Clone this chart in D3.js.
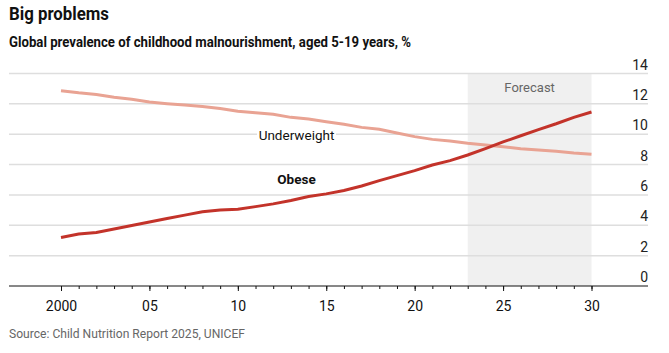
<!DOCTYPE html>
<html>
<head>
<meta charset="utf-8">
<script src="https://cdnjs.cloudflare.com/ajax/libs/d3/7.8.5/d3.min.js"></script>
<style>
  body { margin: 0; background: #fff; }
  svg { font-family: Roboto, "Liberation Sans", sans-serif; }
</style>
</head>
<body>
<div id="chart-area"></div>
<script>
// Data
var years = [2000, 2001, 2002, 2003, 2004, 2005, 2006, 2007, 2008, 2009,
             2010, 2011, 2012, 2013, 2014, 2015, 2016, 2017, 2018, 2019,
             2020, 2021, 2022, 2023, 2024, 2025, 2026, 2027, 2028, 2029, 2030];
var underweight = [12.87, 12.73, 12.62, 12.43, 12.31, 12.12, 12.01, 11.92, 11.83, 11.70,
                   11.52, 11.41, 11.31, 11.11, 11.00, 10.82, 10.65, 10.45, 10.32, 10.08,
                   9.84, 9.66, 9.55, 9.40, 9.29, 9.18, 9.05, 8.96, 8.87, 8.76, 8.68];
var obese = [3.20, 3.42, 3.53, 3.75, 3.99, 4.21, 4.45, 4.67, 4.89, 5.00,
             5.06, 5.23, 5.41, 5.63, 5.89, 6.07, 6.29, 6.59, 6.94, 7.27,
             7.60, 7.97, 8.26, 8.63, 9.05, 9.49, 9.90, 10.30, 10.69, 11.11, 11.46];
var yTicks = [0, 2, 4, 6, 8, 10, 12, 14];
var xMajor = [2000, 2005, 2010, 2015, 2020, 2025, 2030];
var xTickLabels = ["2000", "05", "10", "15", "20", "25", "30"];
var forecast = [2023, 2030];

var W = 669, H = 353;
var left = 9, right = 648;

var svg = d3.select("#chart-area")
    .append("svg")
        .attr("width", W)
        .attr("height", H);

var x = d3.scaleLinear().domain([2000, 2030]).range([61, 591.5]);
var y = d3.scaleLinear().domain([0, 14]).range([286, 73.5]);

// Titles
svg.append("text")
    .attr("class", "title")
    .attr("x", 9).attr("y", 20)
    .attr("font-size", "19px").attr("font-weight", "bold")
    .attr("fill", "#111")
    .text("Big problems");

svg.append("text")
    .attr("class", "sub")
    .attr("x", 9).attr("y", 47)
    .attr("font-size", "14px").attr("font-weight", "bold")
    .attr("fill", "#111")
    .text("Global prevalence of childhood malnourishment, aged 5-19 years, %");

// Forecast band
svg.append("rect")
    .attr("x", x(forecast[0]))
    .attr("y", y(14))
    .attr("width", x(forecast[1]) - x(forecast[0]))
    .attr("height", y(0) - y(14))
    .attr("fill", "#f0f0f0");

svg.append("text")
    .attr("x", (x(forecast[0]) + x(forecast[1])) / 2)
    .attr("y", 92)
    .attr("text-anchor", "middle")
    .attr("font-size", "13px")
    .attr("fill", "#666")
    .text("Forecast");

// Gridlines + y labels
svg.selectAll(".grid")
    .data(yTicks.filter(function(d){ return d > 0; }))
    .enter().append("line")
        .attr("class", "grid")
        .attr("x1", left).attr("x2", right)
        .attr("y1", function(d){ return y(d); })
        .attr("y2", function(d){ return y(d); })
        .attr("stroke", "#dedede")
        .attr("stroke-width", 1.5);

svg.selectAll(".ylab")
    .data(yTicks)
    .enter().append("text")
        .attr("class", "ylab")
        .attr("x", right)
        .attr("y", function(d){ return y(d) - 4; })
        .attr("text-anchor", "end")
        .attr("font-size", "14px")
        .attr("fill", "#222")
        .text(function(d){ return d; });

// Lines
var line = d3.line()
    .x(function(d){ return x(d[0]); })
    .y(function(d){ return y(d[1]); });

svg.append("path")
    .datum(years.map(function(d, i){ return [d, underweight[i]]; }))
    .attr("d", line)
    .attr("fill", "none")
    .attr("stroke", "#e9a393")
    .attr("stroke-width", 3);

svg.append("path")
    .datum(years.map(function(d, i){ return [d, obese[i]]; }))
    .attr("d", line)
    .attr("fill", "none")
    .attr("stroke", "#c3332a")
    .attr("stroke-width", 3);

// Series labels
svg.append("rect")
    .attr("x", 257).attr("y", 127)
    .attr("width", 79).attr("height", 16)
    .attr("fill", "#fff");
svg.append("text")
    .attr("x", 296.5).attr("y", 140)
    .attr("text-anchor", "middle")
    .attr("font-size", "13.5px")
    .attr("fill", "#111")
    .text("Underweight");
svg.append("text")
    .attr("x", 296.5).attr("y", 184)
    .attr("text-anchor", "middle")
    .attr("font-size", "13.5px")
    .attr("font-weight", "bold")
    .attr("fill", "#111")
    .text("Obese");

// X axis
svg.append("line")
    .attr("x1", left).attr("x2", right)
    .attr("y1", y(0)).attr("y2", y(0))
    .attr("stroke", "#111")
    .attr("stroke-width", 1);

var xAxisCall = d3.axisBottom(x)
    .tickValues(years)
    .tickSize(3)
    .tickFormat("");
svg.append("g")
    .attr("class", "x axis")
    .attr("transform", "translate(0," + y(0) + ")")
    .call(xAxisCall)
    .call(function(g){ g.select(".domain").remove(); });

var xMajorCall = d3.axisBottom(x)
    .tickValues(xMajor)
    .tickSize(5)
    .tickPadding(10)
    .tickFormat(function(d, i){ return xTickLabels[i]; });
svg.append("g")
    .attr("class", "x axis major")
    .attr("transform", "translate(0," + y(0) + ")")
    .call(xMajorCall)
    .call(function(g){ g.select(".domain").remove(); });

svg.selectAll(".x.axis line").attr("stroke", "#111");
svg.selectAll(".x.axis text")
    .attr("font-size", "14px")
    .attr("font-family", "Roboto, sans-serif")
    .attr("fill", "#111");

// Source
svg.append("text")
    .attr("class", "src")
    .attr("x", 9).attr("y", 338)
    .attr("font-size", "12.5px")
    .attr("fill", "#666")
    .text("Source: Child Nutrition Report 2025, UNICEF");

// Squeeze wide texts to the widths seen in the reference
function fit(sel, w) {
    if (sel.node().getComputedTextLength() > w) {
        sel.attr("textLength", w).attr("lengthAdjust", "spacingAndGlyphs");
    }
}
fit(svg.select(".title"), 100);
fit(svg.select(".sub"), 402);
fit(svg.select(".src"), 236);
</script>
</body>
</html>
